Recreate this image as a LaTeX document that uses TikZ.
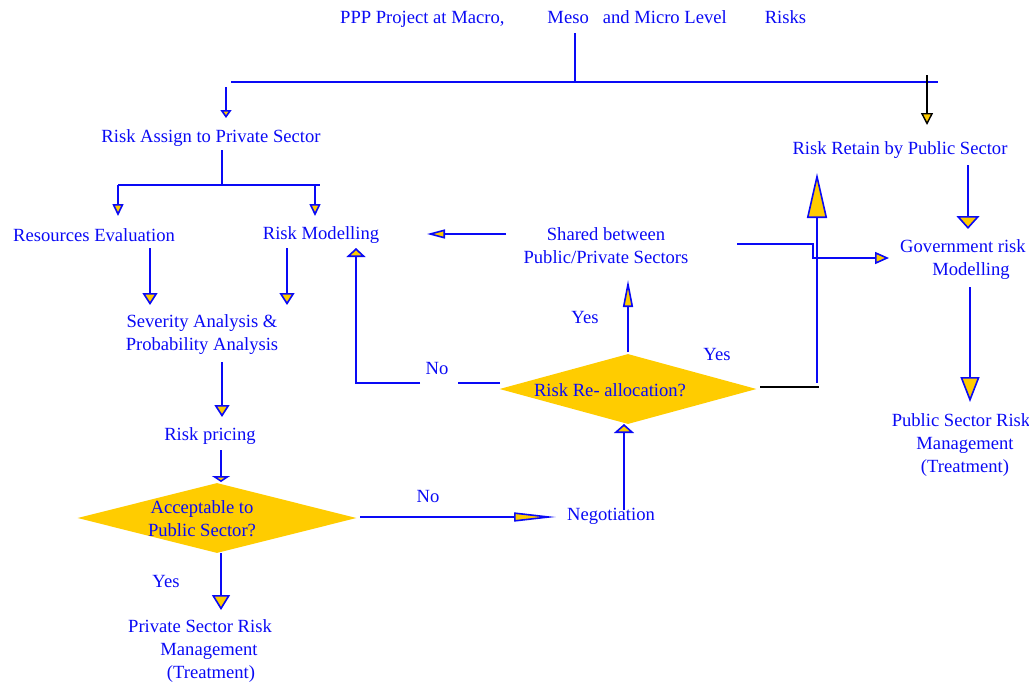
\documentclass[tikz,border=0pt]{standalone}
\usepackage{fontspec}
\setmainfont{Liberation Serif}
\usetikzlibrary{arrows.meta,shapes.geometric}
\definecolor{bl}{RGB}{10,10,245}
\definecolor{gold}{RGB}{255,204,0}
\begin{document}
\begin{tikzpicture}[x=1pt,y=-1pt,
  txt/.style={text=bl,font=\fontsize{18.6}{23}\selectfont,inner sep=0pt,align=center},
  ln/.style={draw=bl,line width=1.6pt},
  blk/.style={draw=black,line width=1.4pt},
  ah/.style 2 args={ln,-{Triangle[length=#1pt,width=#2pt,fill=gold]}},
  bah/.style 2 args={blk,-{Triangle[length=#1pt,width=#2pt,fill=gold]}},
  dia/.style={diamond,fill=gold,inner sep=0pt,draw=none}]
\useasboundingbox (0,0) rectangle (1029,683);

% ---------- nodes ----------
\node[txt,anchor=west] (title) at (340,19) {PPP Project at Macro,\hspace{43pt}Meso\hspace{14pt}and Micro Level\hspace{38pt}Risks};
\node[txt] (ra) at (211,138) {Risk Assign to Private Sector};
\node[txt] (rr) at (900,150) {Risk Retain by Public Sector};
\node[txt] (re) at (94,235) {Resources Evaluation};
\node[txt] (rm) at (321,235) {Risk Modelling};
\node[txt] (sh) at (606,246) {Shared between\\Public/Private Sectors};
\node[txt] (gm) at (963,260) {Government risk\\\hspace*{16pt}Modelling};
\node[txt] (sa) at (202,335) {Severity Analysis \&\\Probability Analysis};
\node[txt] (rp) at (210,436) {Risk pricing};
\node[dia,minimum width=279,minimum height=70] (acc) at (217,518) {};
\node[txt] (acct) at (202,519) {Acceptable to\\Public Sector?};
\node[txt] (neg) at (611,516) {Negotiation};
\node[dia,minimum width=257,minimum height=70] (rra) at (628,389) {};
\node[txt] (rrat) at (610,390) {Risk Re- allocation?};
\node[txt] (psr) at (961,445) {Public Sector Risk\\\hspace*{8pt}Management\\\hspace*{8pt}(Treatment)};
\node[txt] (pvr) at (200,651) {Private Sector Risk\\\hspace*{18pt}Management\\\hspace*{22pt}(Treatment)};
\node[txt] (no1) at (428,496) {No};
\node[txt] (yes1) at (166,581) {Yes};
\node[txt] (yes2) at (585,317) {Yes};
\node[txt] (yes3) at (717,354) {Yes};
\node[txt] (no2) at (437,368) {No};

% ---------- coordinates ----------
\coordinate (t0) at (575,33);   \coordinate (t1) at (575,82);
\coordinate (hl) at (231,82);   \coordinate (hr) at (938,82);
\coordinate (a1s) at (226,87);  \coordinate (a1e) at (226,118);
\coordinate (a2s) at (927,75);  \coordinate (a2e) at (927,125);
\coordinate (b0) at (222,150);  \coordinate (b1) at (222,185);
\coordinate (bl1) at (118,185); \coordinate (br1) at (320,185);
\coordinate (a3e) at (118,216); \coordinate (a4s) at (315,185); \coordinate (a4e) at (315,216);
\coordinate (a5s) at (150,248); \coordinate (a5e) at (150,305);
\coordinate (a6s) at (287,248); \coordinate (a6e) at (287,305);
\coordinate (a7s) at (222,362); \coordinate (a7e) at (222,417);
\coordinate (a8s) at (221,450); \coordinate (a8e) at (221,482);
\coordinate (a9s) at (221,553); \coordinate (a9e) at (221,610);
\coordinate (a10s) at (360,517); \coordinate (a10e) at (556,517);
\coordinate (a11s) at (624,510); \coordinate (a11e) at (624,424);
\coordinate (a12s) at (628,352); \coordinate (a12e) at (628,280);
\coordinate (a13s) at (506,234); \coordinate (a13e) at (427,234);
\coordinate (n1) at (500,383); \coordinate (n2) at (458,383);
\coordinate (n3) at (420,383); \coordinate (n4) at (356,383); \coordinate (n5) at (356,248);
\coordinate (k1) at (760,387); \coordinate (k2) at (819,387);
\coordinate (u1) at (817,383); \coordinate (u2) at (817,173);
\coordinate (s1) at (737,244); \coordinate (s2) at (813,244);
\coordinate (s3) at (813,258); \coordinate (s4) at (889,258);
\coordinate (r1) at (968,165); \coordinate (r2) at (968,229);
\coordinate (g1) at (970,287); \coordinate (g2) at (970,402);

% ---------- connectors ----------
\draw[ln] (t0) -- (t1);
\draw[ln] (hl) -- (hr);
\draw[ah={8}{11}] (a1s) -- (a1e);
\draw[bah={12}{12}] (a2s) -- (a2e);
\draw[ln] (b0) -- (b1);
\draw[ln] (bl1) -- (br1);
\draw[ah={12}{11}] (bl1) -- (a3e);
\draw[ah={12}{11}] (a4s) -- (a4e);
\draw[ah={12}{15}] (a5s) -- (a5e);
\draw[ah={12}{15}] (a6s) -- (a6e);
\draw[ah={12}{15}] (a7s) -- (a7e);
\draw[ah={6}{18}] (a8s) -- (a8e);
\draw[ah={15}{18}] (a9s) -- (a9e);
\draw[ah={42}{9}] (a10s) -- (a10e);
\draw[ah={9}{20}] (a11s) -- (a11e);
\draw[ah={27}{10}] (a12s) -- (a12e);
\draw[ah={18}{9}] (a13s) -- (a13e);
\draw[ln] (n1) -- (n2);
\draw[ah={9}{19}] (n3) -- (n4) -- (n5);
\draw[blk] (k1) -- (k2);
\draw[ah={45}{20}] (u1) -- (u2);
\draw[ah={14}{12}] (s1) -- (s2) -- (s3) -- (s4);
\draw[ah={13}{23}] (r1) -- (r2);
\draw[ah={25}{19}] (g1) -- (g2);
\end{tikzpicture}
\end{document}
